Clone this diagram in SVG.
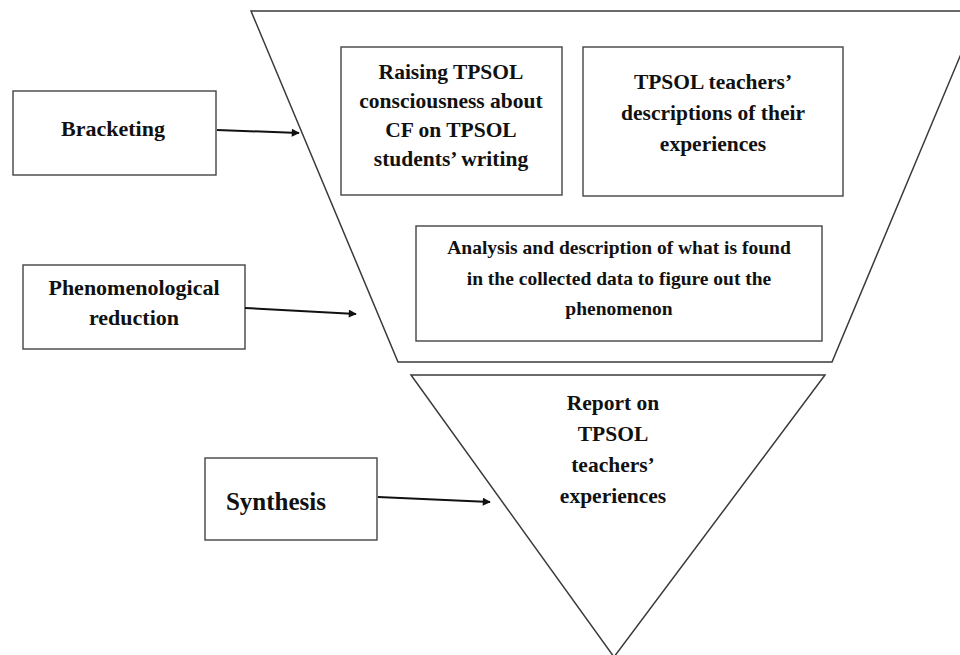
<svg xmlns="http://www.w3.org/2000/svg" width="960" height="655" viewBox="0 0 960 655">
<defs>
<style>
.shape{fill:none;stroke:#3a3a3a;stroke-width:1.5}
.box{fill:#fff;stroke:#444;stroke-width:1.4}
.t{font-family:"Liberation Serif","Times New Roman",serif;font-weight:bold;fill:#111;text-anchor:middle}
.arr{stroke:#111;stroke-width:2;fill:none}
</style>
<marker id="ah" viewBox="0 0 10 10" refX="9" refY="5" markerWidth="5" markerHeight="4" orient="auto" markerUnits="strokeWidth">
<path d="M0,0 L10,5 L0,10 z" fill="#111"/>
</marker>
</defs>
<rect width="960" height="655" fill="#fff"/>
<g id="funnel-top"><polygon class="shape" points="251,11 979,11 832,362 398,362"/></g>
<g id="funnel-bottom"><polygon class="shape" points="411,375 825,375 614,657"/></g>

<g id="bracketing">
<rect class="box" x="13" y="91" width="203" height="84"/>
<text class="t" x="113" y="136" font-size="22">Bracketing</text>
</g>
<g id="raising">
<rect class="box" x="341" y="47" width="221" height="148"/>
<text class="t" font-size="21.5"><tspan x="451" y="79">Raising TPSOL</tspan><tspan x="451" y="108">consciousness about</tspan><tspan x="451" y="137">CF on TPSOL</tspan><tspan x="451" y="166">students’ writing</tspan></text>
</g>
<g id="descriptions">
<rect class="box" x="583" y="47" width="260" height="149"/>
<text class="t" font-size="21.5"><tspan x="713" y="89">TPSOL teachers’</tspan><tspan x="713" y="120">descriptions of their</tspan><tspan x="713" y="151">experiences</tspan></text>
</g>
<g id="phen-reduction">
<rect class="box" x="23" y="265" width="222" height="84"/>
<text class="t" font-size="22"><tspan x="134" y="295">Phenomenological</tspan><tspan x="134" y="325">reduction</tspan></text>
</g>
<g id="analysis">
<rect class="box" x="416" y="226" width="406" height="115"/>
<text class="t" font-size="19.5"><tspan x="619" y="254">Analysis and description of what is found</tspan><tspan x="619" y="285">in the collected data to figure out the</tspan><tspan x="619" y="315">phenomenon</tspan></text>
</g>
<g id="synthesis">
<rect class="box" x="205" y="458" width="172" height="82"/>
<text class="t" x="276" y="510" font-size="25">Synthesis</text>
</g>
<g id="report">
<text class="t" font-size="21.5"><tspan x="613" y="410">Report on</tspan><tspan x="613" y="441">TPSOL</tspan><tspan x="613" y="472">teachers’</tspan><tspan x="613" y="503">experiences</tspan></text>
</g>

<g id="connectors">
<line class="arr" x1="217" y1="130" x2="299" y2="133" marker-end="url(#ah)"/>
<line class="arr" x1="245" y1="308" x2="356" y2="314" marker-end="url(#ah)"/>
<line class="arr" x1="378" y1="497" x2="490" y2="502" marker-end="url(#ah)"/>
</g>
</svg>
